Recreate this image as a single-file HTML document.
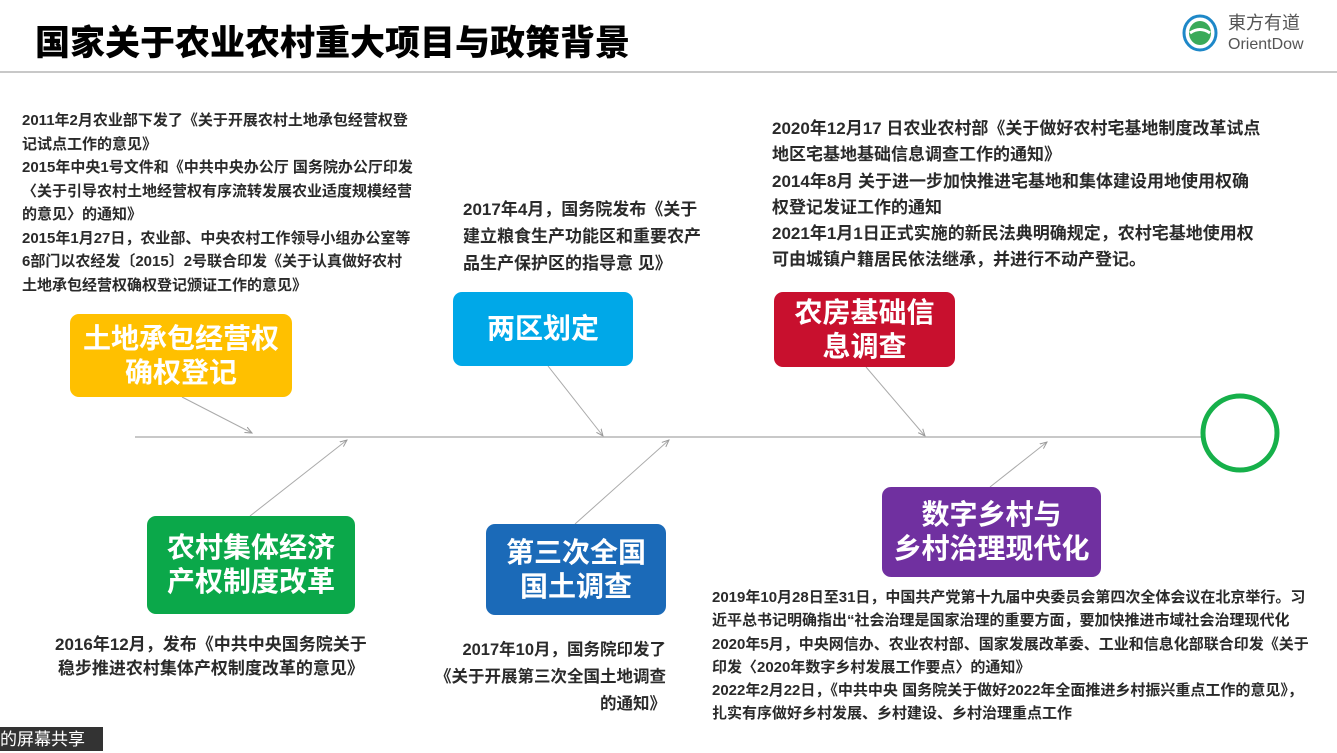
<!DOCTYPE html>
<html><head><meta charset="utf-8"><style>
body{margin:0;width:1337px;height:751px;background:#fff;position:relative;overflow:hidden;font-family:"Liberation Sans","Noto Sans CJK SC",sans-serif;}
.a{position:absolute;white-space:nowrap;}
.t{font-weight:bold;color:#2a2a2a;}
.box{position:absolute;border-radius:9px;color:#fff;font-weight:bold;font-size:28px;line-height:34px;display:flex;align-items:center;justify-content:center;text-align:center;}
</style></head><body>
<div class="a" style="left:35px;top:15px;font-size:35px;font-weight:900;color:#000;letter-spacing:0px">国家关于农业农村重大项目与政策背景</div>
<svg class="a" style="left:1182px;top:14px" width="36" height="38"><ellipse cx="18" cy="19" rx="16" ry="17" fill="none" stroke="#1e88c8" stroke-width="3"/><ellipse cx="18" cy="19" rx="11" ry="12" fill="#3aaa5a"/><path d="M8 19 Q18 12 28 19" stroke="#fff" stroke-width="3" fill="none"/></svg>
<div class="a" style="left:1228px;top:13px;font-size:18px;color:#555;line-height:20px">東方有道<br><span style="font-size:16px">OrientDow</span></div>
<div class="a" style="left:0;top:71px;width:1337px;height:2px;background:#c8c8c8"></div>

<div class="a t" style="left:22px;top:109px;font-size:15px;line-height:23.5px">2011年2月农业部下发了《关于开展农村土地承包经营权登<br>记试点工作的意见》<br>2015年中央1号文件和《中共中央办公厅 国务院办公厅印发<br>〈关于引导农村土地经营权有序流转发展农业适度规模经营<br>的意见〉的通知》<br>2015年1月27日，农业部、中央农村工作领导小组办公室等<br>6部门以农经发〔2015〕2号联合印发《关于认真做好农村<br>土地承包经营权确权登记颁证工作的意见》</div>
<div class="a t" style="left:463px;top:196px;font-size:17px;line-height:27px">2017年4月，国务院发布《关于<br>建立粮食生产功能区和重要农产<br>品生产保护区的指导意 见》</div>
<div class="a t" style="left:772px;top:116px;font-size:17px;line-height:26.3px">2020年12月17 日农业农村部《关于做好农村宅基地制度改革试点<br>地区宅基地基础信息调查工作的通知》<br>2014年8月 关于进一步加快推进宅基地和集体建设用地使用权确<br>权登记发证工作的通知<br>2021年1月1日正式实施的新民法典明确规定，农村宅基地使用权<br>可由城镇户籍居民依法继承，并进行不动产登记。</div>

<svg class="a" style="left:0;top:0" width="1337" height="751">
<defs><marker id="m" markerWidth="8" markerHeight="8" refX="7" refY="4" orient="auto"><path d="M0,1 L7,4 L0,7" fill="none" stroke="#999" stroke-width="1"/></marker></defs>
<line x1="135" y1="437" x2="1201" y2="437" stroke="#c8c8c8" stroke-width="2"/>
<g stroke="#aaa" stroke-width="1" marker-end="url(#m)">
<line x1="182" y1="397" x2="252" y2="433"/>
<line x1="548" y1="366" x2="603" y2="436"/>
<line x1="866" y1="367" x2="925" y2="436"/>
<line x1="250" y1="516" x2="347" y2="440"/>
<line x1="575" y1="524" x2="669" y2="440"/>
<line x1="990" y1="487" x2="1047" y2="442"/>
</g>
<ellipse cx="1240" cy="433" rx="37" ry="37" fill="none" stroke="#16b04a" stroke-width="5"/>
</svg>

<div class="box" style="left:70px;top:314px;width:222px;height:83px;background:#FFC000">土地承包经营权<br>确权登记</div>
<div class="box" style="left:453px;top:292px;width:180px;height:74px;background:#00A8E8">两区划定</div>
<div class="box" style="left:774px;top:292px;width:181px;height:75px;background:#C8102E">农房基础信<br>息调查</div>
<div class="box" style="left:147px;top:516px;width:208px;height:98px;background:#0BA84A">农村集体经济<br>产权制度改革</div>
<div class="box" style="left:486px;top:524px;width:180px;height:91px;background:#1B6AB8">第三次全国<br>国土调查</div>
<div class="box" style="left:882px;top:487px;width:219px;height:90px;background:#7030A0">数字乡村与<br>乡村治理现代化</div>

<div class="a t" style="left:55px;top:633px;font-size:17px;line-height:24px;text-align:center">2016年12月，发布《中共中央国务院关于<br>稳步推进农村集体产权制度改革的意见》</div>
<div class="a t" style="left:400px;top:637px;width:266px;font-size:16.5px;line-height:27px;text-align:right">2017年10月，国务院印发了<br>《关于开展第三次全国土地调查<br>的通知》</div>
<div class="a t" style="left:712px;top:586px;font-size:15px;line-height:23.3px">2019年10月28日至31日，中国共产党第十九届中央委员会第四次全体会议在北京举行。习<br>近平总书记明确指出“社会治理是国家治理的重要方面，要加快推进市域社会治理现代化<br>2020年5月，中央网信办、农业农村部、国家发展改革委、工业和信息化部联合印发《关于<br>印发〈2020年数字乡村发展工作要点〉的通知》<br>2022年2月22日，《中共中央 国务院关于做好2022年全面推进乡村振兴重点工作的意见》，<br>扎实有序做好乡村发展、乡村建设、乡村治理重点工作</div>

<div class="a" style="left:0;top:727px;width:103px;height:24px;background:#333;color:#fff;font-size:17px;line-height:26px">的屏幕共享</div>
</body></html>
